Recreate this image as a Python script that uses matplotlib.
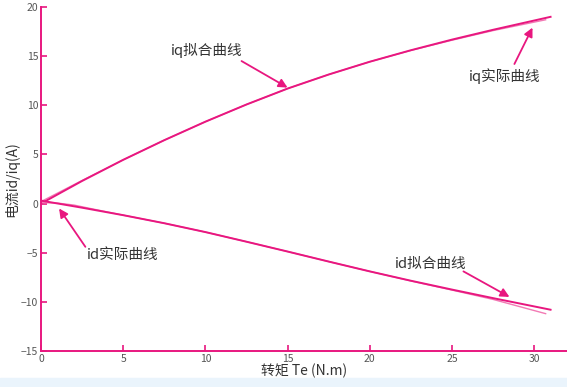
import matplotlib
matplotlib.use('Agg')
import matplotlib.pyplot as plt
from matplotlib.patches import Rectangle

plt.rcParams['font.family'] = ['Noto Sans CJK SC', 'DejaVu Sans']
plt.rcParams['axes.unicode_minus'] = True

# iq fitted / actual
iq_fit_x = [0, 2.5, 5, 7.5, 10, 12.5, 15, 17.5, 20, 22.5, 25, 27.5, 31]
iq_fit_y = [0.0, 2.30, 4.45, 6.45, 8.33, 10.08, 11.70, 13.13, 14.43, 15.60, 16.68, 17.68, 19.0]
iq_act_x = [0, 2.5, 5, 7.5, 10, 12.5, 15, 17.5, 20, 22.5, 25, 27.5, 30.7]
iq_act_y = [0.2, 2.35, 4.45, 6.45, 8.33, 10.08, 11.70, 13.13, 14.43, 15.58, 16.62, 17.6, 18.7]

# id fitted / actual
id_fit_x = [0, 2.5, 5, 7.5, 10, 12.5, 15, 17.5, 20, 22.5, 25, 27.5, 31]
id_fit_y = [0.3, -0.42, -1.18, -2.0, -2.9, -3.88, -4.88, -5.9, -6.9, -7.85, -8.75, -9.62, -10.8]
id_act_x = [0, 1, 2, 3, 5, 7.5, 10, 12.5, 15, 17.5, 20, 22.5, 25, 27.5, 30.7]
id_act_y = [0.1, 0.05, -0.15, -0.5, -1.18, -2.0, -2.9, -3.88, -4.88, -5.9, -6.9, -7.87, -8.8, -9.75, -11.2]

# labels: (text, text x, text y, arrow start, arrow tip)
notes = [
    ('iq拟合曲线', 7.9, 15.6, (12.2, 14.5), (15.0, 11.8)),
    ('iq实际曲线', 26.0, 13.0, (28.8, 14.2), (29.9, 17.9)),
    ('id实际曲线', 2.8, -5.2, (2.7, -4.4), (1.1, -0.5)),
    ('id拟合曲线', 21.5, -6.1, (25.7, -6.9), (28.5, -9.5)),
]

pink = '#e8177f'
light = '#f27ab4'

fig = plt.figure(figsize=(5.67, 3.87), dpi=100)
fig.patches.append(Rectangle((0, 0), 1, 9 / 387, transform=fig.transFigure,
                             color='#eaf4fc', zorder=0))
ax = fig.add_axes([41 / 567, 36 / 387, 1 - 41 / 567, 344 / 387])
ax.patch.set_alpha(0)

ax.plot(iq_act_x, iq_act_y, color=light, lw=1.0)
ax.plot(iq_fit_x, iq_fit_y, color=pink, lw=1.4)
ax.plot(id_act_x, id_act_y, color=light, lw=1.0)
ax.plot(id_fit_x, id_fit_y, color=pink, lw=1.4)

for txt, tx, ty, start, tip in notes:
    ax.text(tx, ty, txt, ha='left', va='center', fontsize=10.5, color='#333333')
    ax.annotate('', xy=tip, xytext=start,
                arrowprops=dict(arrowstyle='-|>', color=pink, lw=1.3,
                                mutation_scale=13, shrinkA=0, shrinkB=0))

ax.set_xlim(0, 32)
ax.set_ylim(-15, 20)
ax.set_xticks([0, 5, 10, 15, 20, 25, 30])
ax.set_yticks([-15, -10, -5, 0, 5, 10, 15, 20])
for s in ['top', 'right']:
    ax.spines[s].set_visible(False)
for s in ['left', 'bottom']:
    ax.spines[s].set_color(pink)
    ax.spines[s].set_linewidth(1.4)
ax.tick_params(direction='in', length=4, width=1.2, color=pink,
               labelsize=7.5, labelcolor='#555555', pad=2)
ax.set_xlabel('转矩 Te (N.m)', fontsize=10, color='#333333', labelpad=0)
ax.set_ylabel('电流id/iq(A)', fontsize=10, color='#333333', labelpad=1)

fig.savefig('out.png', dpi=100)
